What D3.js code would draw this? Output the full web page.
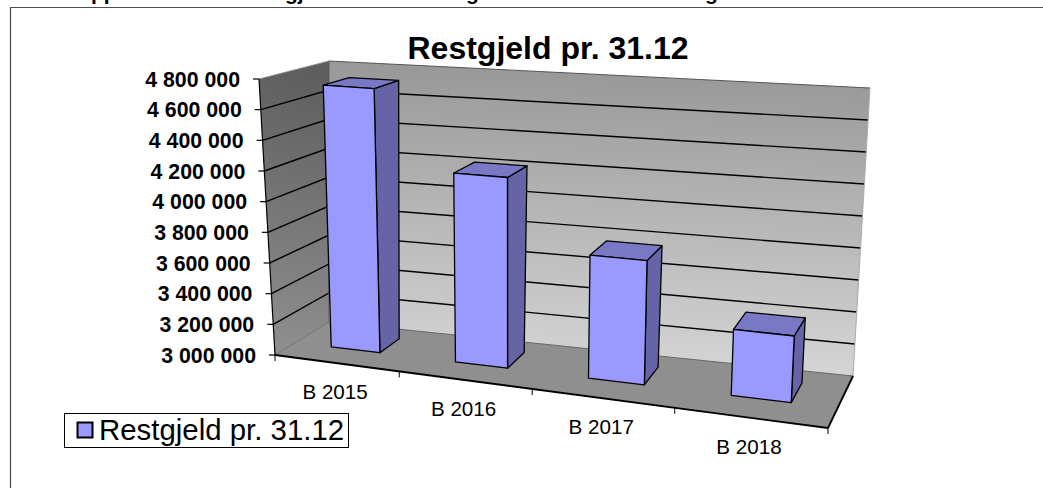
<!DOCTYPE html>
<html>
<head>
<meta charset="utf-8">
<script src="https://d3js.org/d3.v7.min.js"></script>
<style>
  html, body { margin: 0; padding: 0; background: #fff; overflow: hidden; }
  text { font-family: "Liberation Sans", Arial, sans-serif; fill: #000; }
</style>
</head>
<body>
<script>
// Chart data
var categories = ["B 2015", "B 2016", "B 2017", "B 2018"];
var restgjeld = [4730000, 4220000, 3775000, 3405000];
var yTicks = [3000000, 3200000, 3400000, 3600000, 3800000, 4000000, 4200000, 4400000, 4600000, 4800000];
var seriesName = "Restgjeld pr. 31.12";
// only the descenders of the page heading above the chart are visible
var headingParts = ["pp", "gj", "g", "g"];

var svgWidth = 1043;
var svgHeight = 488;

var svg = d3.select("body")
    .append("svg")
    .attr("width", svgWidth)
    .attr("height", svgHeight)
    .style("display", "block");

// Corners of the 3D box as Excel drew it: [x, y] in the picture
var box = {
    floorFrontLeft: [275, 355], floorFrontRight: [828, 428],
    floorBackLeft: [329, 322], floorBackRight: [853, 376],
    topFrontLeft: [259, 79], topFrontRight: [842, 123],
    topBackLeft: [329, 61], topBackRight: [870, 88]
};

// perspective foreshortening along a unit axis
function warp(t, k) {
    return t / (t + k * (1 - t));
}

function mix(a, b, t) {
    return [a[0] + (b[0] - a[0]) * t, a[1] + (b[1] - a[1]) * t];
}

// u = along the categories, v = up, z = into the chart (all 0..1)
function project(u, v, z) {
    var uu = warp(u, 1.15);
    var zz = warp(z, 0.7);
    var front = mix(mix(box.floorFrontLeft, box.floorFrontRight, uu), mix(box.topFrontLeft, box.topFrontRight, uu), v);
    var back = mix(mix(box.floorBackLeft, box.floorBackRight, uu), mix(box.topBackLeft, box.topBackRight, uu), v);
    return mix(front, back, zz);
}

var xScale = d3.scaleBand()
    .domain(categories)
    .range([0, 1])
    .paddingInner(0.6)
    .paddingOuter(0.3);

var vScale = d3.scaleLinear()
    .domain([3000000, 4800000])
    .range([0, 1]);

var barDepth = [0.3, 0.7];

var polyLine = d3.line();

function face(points) {
    return polyLine(points.map(function(p) { return project(p[0], p[1], p[2]); })) + "Z";
}

function segment(a, b) {
    return polyLine([project(a[0], a[1], a[2]), project(b[0], b[1], b[2])]);
}

// Gradients for the walls
var defs = svg.append("defs");

function wallGradient(id, top, bottom) {
    var g = defs.append("linearGradient")
        .attr("id", id)
        .attr("x1", 0.05).attr("y1", 0)
        .attr("x2", 0).attr("y2", 1);
    g.append("stop").attr("offset", "0%").attr("stop-color", top);
    g.append("stop").attr("offset", "100%").attr("stop-color", bottom);
}
wallGradient("backWall", "#989898", "#d8d8d8");
wallGradient("sideWall", "#5e5e5e", "#909090");

// Page heading, cut by the top edge of the picture
var headingX = [91, 285, 466, 705];
svg.selectAll(".heading")
    .data(headingParts)
    .enter()
    .append("text")
    .attr("class", "heading")
    .attr("x", function(d, i) { return headingX[i]; })
    .attr("y", 0)
    .attr("font-size", 21)
    .attr("font-weight", "bold")
    .text(function(d) { return d; });

// Frame around the chart, open at the right and the bottom
svg.append("path")
    .attr("d", "M10.5," + svgHeight + "V7.5H" + svgWidth)
    .attr("fill", "none")
    .attr("stroke", "#4d4d4d")
    .attr("stroke-width", 1.2);

svg.append("text")
    .attr("x", 548)
    .attr("y", 59)
    .attr("text-anchor", "middle")
    .attr("font-size", 32)
    .attr("font-weight", "bold")
    .text("Restgjeld pr. 31.12");

// Walls and floor
svg.append("path")
    .attr("d", face([[0, 0, 0], [0, 1, 0], [0, 1, 1], [0, 0, 1]]))
    .attr("fill", "url(#sideWall)");

svg.append("path")
    .attr("d", face([[0, 0, 1], [0, 1, 1], [1, 1, 1], [1, 0, 1]]))
    .attr("fill", "url(#backWall)");

svg.append("path")
    .attr("d", face([[0, 0, 0], [0, 0, 1], [1, 0, 1], [1, 0, 0]]))
    .attr("fill", "#8f8f8f");

// Gridlines on the two walls
var gridG = svg.append("g")
    .attr("fill", "none")
    .attr("stroke", "#000")
    .attr("stroke-width", 1.4);

yTicks.slice(1, -1).forEach(function(t) {
    var v = vScale(t);
    gridG.append("path").attr("d", polyLine([project(0, v, 0), project(0, v, 1), project(1, v, 1)]));
});

// Box edges
function edge(a, b, color, w) {
    svg.append("path")
        .attr("d", segment(a, b))
        .attr("fill", "none")
        .attr("stroke", color)
        .attr("stroke-width", w);
}
edge([0, 1, 1], [1, 1, 1], "#555", 1);
edge([1, 0, 1], [1, 1, 1], "#aaa", 1);
edge([0, 0, 1], [1, 0, 1], "#666", 1);
edge([0, 0, 0], [0, 0, 1], "#666", 0.8);
edge([0, 1, 0], [0, 1, 1], "#888", 0.8);
edge([0, 0, 1], [0, 1, 1], "#555", 0.8);
edge([0, 0, 0], [0, 1, 0], "#000", 1.2);
edge([0, 0, 0], [1, 0, 0], "#000", 1.8);
edge([1, 0, 0], [1, 0, 1], "#000", 1.8);

// Bars: side and top first, then the front
var barData = categories.map(function(c, i) {
    return { name: c, value: restgjeld[i] };
});

var bars = svg.selectAll(".bar")
    .data(barData)
    .enter()
    .append("g")
    .attr("class", "bar")
    .attr("stroke", "#000")
    .attr("stroke-width", 1.3)
    .attr("stroke-linejoin", "round");

bars.append("path")
    .attr("d", function(d) {
        var x1 = xScale(d.name) + xScale.bandwidth();
        var v = vScale(d.value);
        return face([[x1, 0, barDepth[0]], [x1, v, barDepth[0]], [x1, v, barDepth[1]], [x1, 0, barDepth[1]]]);
    })
    .attr("fill", "#6464a6");

bars.append("path")
    .attr("d", function(d) {
        var x0 = xScale(d.name);
        var x1 = x0 + xScale.bandwidth();
        var v = vScale(d.value);
        return face([[x0, v, barDepth[0]], [x0, v, barDepth[1]], [x1, v, barDepth[1]], [x1, v, barDepth[0]]]);
    })
    .attr("fill", "#7878c4");

bars.append("path")
    .attr("d", function(d) {
        var x0 = xScale(d.name);
        var x1 = x0 + xScale.bandwidth();
        var v = vScale(d.value);
        return face([[x0, 0, barDepth[0]], [x0, v, barDepth[0]], [x1, v, barDepth[0]], [x1, 0, barDepth[0]]]);
    })
    .attr("fill", "#9999ff");

// Value axis: a normal left axis, each tick then slid along the slanted edge
var spaced = d3.formatLocale({ thousands: " ", grouping: [3], decimal: ",", currency: ["", ""] }).format(",");

var yPixel = d3.scaleLinear()
    .domain(vScale.domain())
    .range([project(0, 0, 0)[1], project(0, 1, 0)[1]]);

var yAxisG = svg.append("g")
    .call(d3.axisLeft(yPixel).tickValues(yTicks).tickSize(6).tickPadding(13).tickFormat(spaced));

yAxisG.select(".domain").remove();

yAxisG.selectAll(".tick")
    .attr("transform", function(d) {
        return "translate(" + project(0, vScale(d), 0)[0] + "," + yPixel(d) + ")";
    });

yAxisG.selectAll(".tick line").attr("stroke", "#000").attr("stroke-width", 1.2);

yAxisG.selectAll(".tick text")
    .attr("y", 1)
    .attr("font-size", 21.3)
    .attr("font-weight", "bold")
    .attr("font-family", "Liberation Sans")
    .attr("fill", "#000");

// Category ticks and labels along the front edge
var step = xScale.step();
d3.range(categories.length + 1).forEach(function(i) {
    var p = project(i * step, 0, 0);
    svg.append("line")
        .attr("x1", p[0]).attr("y1", p[1])
        .attr("x2", p[0]).attr("y2", p[1] + 6)
        .attr("stroke", "#000")
        .attr("stroke-width", 1);
});

svg.selectAll(".cat")
    .data(categories)
    .enter()
    .append("text")
    .attr("class", "cat")
    .attr("x", function(d) { return project(xScale(d) + xScale.bandwidth() / 2, 0, 0)[0] - 1; })
    .attr("y", function(d) { return project(xScale(d) + xScale.bandwidth() / 2, 0, 0)[1] + 36; })
    .attr("text-anchor", "middle")
    .attr("font-size", 20.6)
    .text(function(d) { return d; });

// Legend
var legend = svg.append("g").attr("transform", "translate(64,413)");

legend.append("rect")
    .attr("x", 0.5).attr("y", 0.5)
    .attr("width", 284).attr("height", 34)
    .attr("fill", "#fff")
    .attr("stroke", "#000")
    .attr("stroke-width", 1);

legend.append("rect")
    .attr("x", 13.5).attr("y", 9.5)
    .attr("width", 15).attr("height", 15)
    .attr("fill", "#9999ff")
    .attr("stroke", "#000")
    .attr("stroke-width", 2);

legend.append("text")
    .attr("x", 35)
    .attr("y", 27)
    .attr("font-size", 29.4)
    .text(seriesName);
</script>
</body>
</html>
